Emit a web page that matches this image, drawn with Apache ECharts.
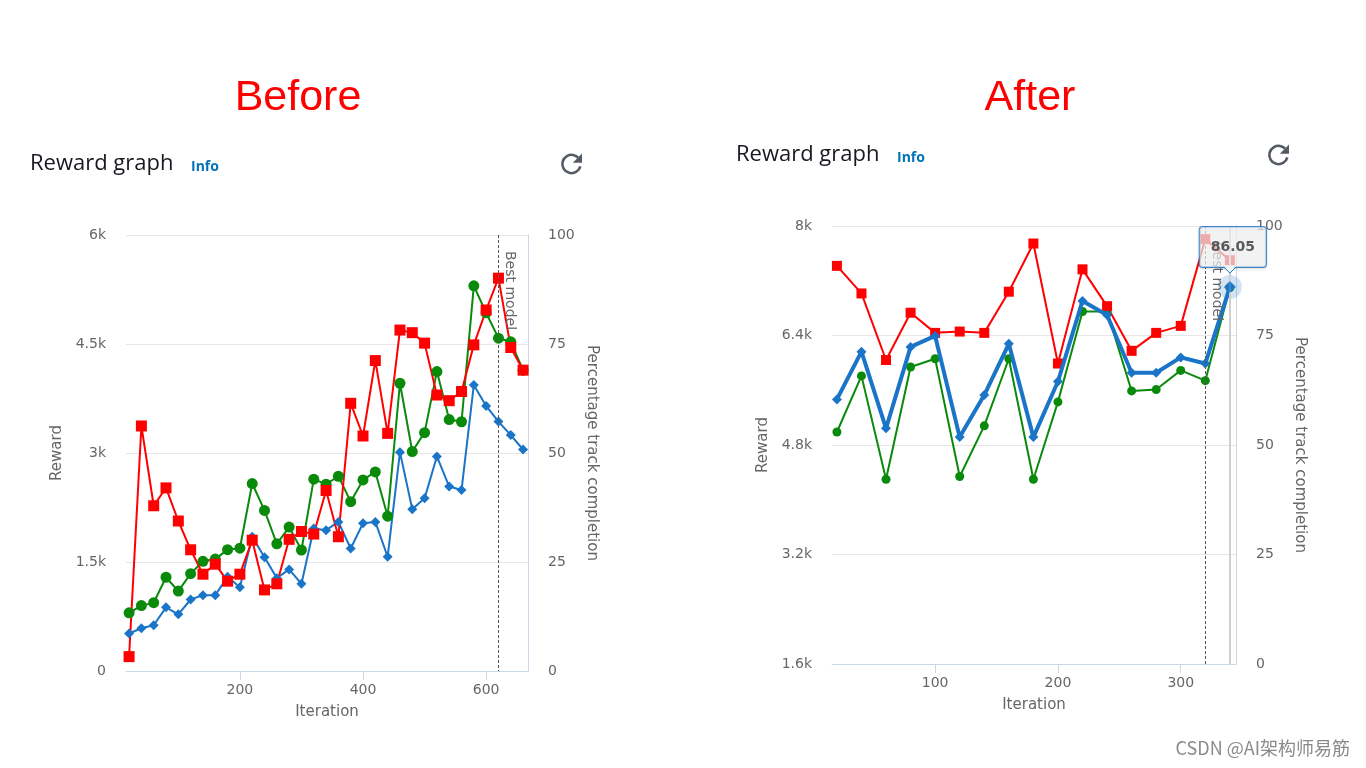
<!DOCTYPE html>
<html><head><meta charset="utf-8">
<script src="https://cdn.jsdelivr.net/npm/echarts@6/dist/echarts.min.js"></script>
<style>html,body{margin:0;padding:0;background:#fff;}#c{width:1366px;height:768px;}</style>
</head><body><div id="c"></div>
<script>
// ---------- Before ----------
const beforeIterations = [20,40,60,80,100,120,140,160,180,200,220,240,260,280,300,320,340,360,380,400,420,440,460,480,500,520,540,560,580,600,620,640,660];
const beforeRewardTraining = [800,900,940,1290,1100,1340,1510,1540,1670,1690,2580,2210,1750,1980,1665,2640,2570,2680,2330,2630,2740,2130,3960,3020,3280,4120,3460,3430,5300,4930,4580,4530,4140];
const beforeCompletionTraining = [8.6,9.8,10.5,14.6,13.0,16.4,17.4,17.4,21.6,19.2,30.8,26.1,21.3,23.3,20.0,32.7,32.3,34.2,28.1,33.9,34.2,26.2,50.2,37.1,39.6,49.2,42.3,41.5,65.6,60.8,57.2,54.1,50.8];
const beforeCompletionEval = [3.3,56.2,37.9,42.0,34.4,27.8,22.2,24.5,20.6,22.2,30.0,18.6,20.0,30.2,32.0,31.4,41.4,30.8,61.4,53.9,71.2,54.5,78.2,77.6,75.2,63.3,62.0,64.1,74.8,82.8,90.1,74.2,69.0];
const beforeBestModel = 620;
const beforeXTicks = [200,400,600];

// ---------- After ----------
const afterIterations = [20,40,60,80,100,120,140,160,180,200,220,240,260,280,300,320,340];
const afterRewardTraining = [4990,5810,4300,5940,6060,4340,5080,6060,4300,5430,6750,6750,5590,5610,5890,5740,7100];
const afterCompletionTraining = [60.4,71.3,53.8,72.4,74.9,51.8,61.4,73.1,51.8,64.5,82.9,79.7,66.5,66.5,70.0,68.6,86.05];
const afterCompletionEval = [90.9,84.6,69.4,80.2,75.6,75.9,75.6,85.0,96.0,68.6,90.1,81.7,71.5,75.6,77.2,97.0,92.2];
const afterBestModel = 320;
const afterXTicks = [100,200,300];

const GRAY = '#666666', AXIS = '#ccd6eb', SPLIT = '#e6e6e6';
const BLUE = '#1a75c8', GREEN = '#0a8a0a', RED = '#ff0000';
const FONT = 'DejaVu Sans';

function kfmt(v){ return v === 0 ? '0' : (Math.round(v/100)/10) + 'k'; }
function pairs(xs, ys){ return xs.map((x,i) => [x, ys[i]]); }

const labelStyle = {color: GRAY, fontSize: 14, fontFamily: FONT};
const nameStyle = {color: GRAY, fontSize: 15, fontFamily: FONT};

function xAx(grid, min, max, ticks){
  return {gridIndex: grid, type: 'value', min: min, max: max,
    name: 'Iteration', nameLocation: 'middle', nameGap: 34, nameTextStyle: nameStyle,
    axisLine: {show: true, lineStyle: {color: AXIS, width: 1}},
    axisTick: {show: true, inside: false, length: 9, lineStyle: {color: AXIS, width: 1}, customValues: ticks},
    axisLabel: Object.assign({margin: 12, customValues: ticks}, labelStyle),
    splitLine: {show: false}};
}
function yLeft(grid, min, max, interval){
  return {gridIndex: grid, type: 'value', position: 'left', min: min, max: max, interval: interval,
    name: 'Reward', nameLocation: 'middle', nameGap: 61, nameRotate: 90, nameTextStyle: nameStyle,
    axisLine: {show: false}, axisTick: {show: false},
    axisLabel: Object.assign({margin: 20, formatter: kfmt}, labelStyle),
    splitLine: {show: true, lineStyle: {color: SPLIT, width: 1}}};
}
function yRight(grid){
  return {gridIndex: grid, type: 'value', position: 'right', min: 0, max: 100, interval: 25,
    name: 'Percentage track completion', nameLocation: 'middle', nameGap: 56, nameRotate: -90, nameTextStyle: nameStyle,
    axisLine: {show: true, lineStyle: {color: AXIS, width: 1}}, axisTick: {show: false},
    axisLabel: Object.assign({margin: 20}, labelStyle),
    splitLine: {show: false}};
}
function bestLine(x){
  return {silent: true, symbol: ['none','none'], animation: false,
    lineStyle: {type: [3,2], color: '#555', width: 1},
    label: {show: true, formatter: 'Best model', position: 'insideStartTop', color: GRAY, fontSize: 14, fontFamily: FONT,
      distance: 4, padding: [0, 0, 0, 12]},
    data: [[{coord: [x, 100]}, {coord: [x, 0]}]]};
}
function lineSeries(name, xi, yi, xs, ys, color, symbol, size, width, z, extra){
  return Object.assign({name: name, type: 'line', xAxisIndex: xi, yAxisIndex: yi, data: pairs(xs, ys),
    symbol: symbol, symbolSize: size, showSymbol: true, animation: false, z: z,
    lineStyle: {color: color, width: width}, itemStyle: {color: color}}, extra || {});
}
function refreshIcon(cx, cy){
  const s = 1.31;
  return [
    {type: 'arc', shape: {cx: cx, cy: cy, r: 7*s, startAngle: 15*Math.PI/180, endAngle: 315*Math.PI/180, clockwise: true},
      style: {stroke: '#545b64', lineWidth: 2*s, fill: null}},
    {type: 'polygon', shape: {points: [[cx+1*s, cy-1*s], [cx+8*s, cy-1*s], [cx+8*s, cy-8*s]]}, style: {fill: '#545b64'}}
  ];
}

const lastIdx = afterIterations.length - 1;
const hoverPoint = [[afterIterations[lastIdx], afterCompletionTraining[lastIdx]]];

const baseGraphic = [
  {type: 'text', x: 298, y: 98, style: {text: 'Before', fill: '#ff0000', font: '43px "Liberation Sans"', textAlign: 'center', textVerticalAlign: 'middle', align: 'center', verticalAlign: 'middle'}},
  {type: 'text', x: 1030, y: 98, style: {text: 'After', fill: '#ff0000', font: '43px "Liberation Sans"', textAlign: 'center', textVerticalAlign: 'middle', align: 'center', verticalAlign: 'middle'}},
  {type: 'text', x: 30, y: 164, style: {text: 'Reward graph', fill: '#16191f', font: '22px "Open Sans"', textVerticalAlign: 'middle', verticalAlign: 'middle'}},
  {type: 'text', x: 191, y: 167, style: {text: 'Info', fill: '#0073bb', font: 'bold 14px "Open Sans"', textVerticalAlign: 'middle', verticalAlign: 'middle'}},
  {type: 'text', x: 736, y: 155, style: {text: 'Reward graph', fill: '#16191f', font: '22px "Open Sans"', textVerticalAlign: 'middle', verticalAlign: 'middle'}},
  {type: 'text', x: 897, y: 158, style: {text: 'Info', fill: '#0073bb', font: 'bold 14px "Open Sans"', textVerticalAlign: 'middle', verticalAlign: 'middle'}},
  {type: 'text', x: 1350, y: 748, style: {text: 'CSDN @AI架构师易筋', fill: '#8a8a8a', font: '18px "Noto Sans CJK SC"', textAlign: 'right', textVerticalAlign: 'middle', align: 'right', verticalAlign: 'middle'}}
].concat(refreshIcon(571.5, 164), refreshIcon(1278.5, 155));

const option = {
  backgroundColor: '#ffffff',
  animation: false,
  grid: [
    {left: 126, right: 838, top: 235, bottom: 97},
    {left: 832, right: 130, top: 226, bottom: 104}
  ],
  xAxis: [xAx(0, 15, 668, beforeXTicks), xAx(1, 16, 345, afterXTicks)],
  yAxis: [yLeft(0, 0, 6000, 1500), yRight(0), yLeft(1, 1600, 8000, 1600), yRight(1)],
  series: [
    lineSeries('Average percentage track completion (training)', 0, 1, beforeIterations, beforeCompletionTraining, BLUE, 'diamond', 10, 2, 2),
    lineSeries('Average reward (training)', 0, 0, beforeIterations, beforeRewardTraining, GREEN, 'circle', 11, 2, 2),
    lineSeries('Average percentage track completion (evaluation)', 0, 1, beforeIterations, beforeCompletionEval, RED, 'rect', 11, 2, 2,
      {markLine: bestLine(beforeBestModel)}),

    lineSeries('Average reward (training)', 1, 2, afterIterations, afterRewardTraining, GREEN, 'circle', 9, 2, 2),
    lineSeries('Average percentage track completion (training)', 1, 3, afterIterations, afterCompletionTraining, BLUE, 'diamond', 10, 4, 3),
    lineSeries('Average percentage track completion (evaluation)', 1, 3, afterIterations, afterCompletionEval, RED, 'rect', 10, 2, 2,
      {markLine: bestLine(afterBestModel)}),
    {type: 'scatter', xAxisIndex: 1, yAxisIndex: 3, data: hoverPoint, symbol: 'circle', symbolSize: 24, z: 1, silent: true,
      itemStyle: {color: 'rgba(26,117,200,0.25)'},
      markLine: {silent: true, symbol: ['none','none'], label: {show: false},
        lineStyle: {type: 'solid', color: '#d0d0d0', width: 2},
        data: [[{coord: [hoverPoint[0][0], 100]}, {coord: [hoverPoint[0][0], 0]}]]}},
    {type: 'scatter', xAxisIndex: 1, yAxisIndex: 3, data: hoverPoint, symbol: 'diamond', symbolSize: 12, z: 10, silent: true,
      itemStyle: {color: BLUE},
      label: {show: true, position: 'top', distance: 14, offset: [3, 0], formatter: p => p.value[1].toFixed(2),
        color: '#333', fontSize: 14, fontWeight: 'bold', fontFamily: FONT, lineHeight: 18,
        backgroundColor: 'rgba(248,248,248,0.85)', borderColor: BLUE, borderWidth: 1, borderRadius: 3,
        padding: [11, 11, 11, 11], shadowBlur: 3, shadowColor: 'rgba(0,0,0,0.15)', shadowOffsetY: 1}}
  ],
  graphic: baseGraphic
};

const chart = echarts.init(document.getElementById('c'), null, {renderer: 'canvas'});
chart.setOption(option);

// tooltip pointer under the label box
const p = chart.convertToPixel({xAxisIndex: 1, yAxisIndex: 3}, hoverPoint[0]);
const boxBottom = p[1] - 20;
chart.setOption({graphic: baseGraphic.concat([
  {type: 'polygon', z: 100, shape: {points: [[p[0]-6, boxBottom-1], [p[0]+6, boxBottom-1], [p[0], boxBottom+6]]}, style: {fill: 'rgba(248,248,248,0.95)'}},
  {type: 'polyline', z: 100, shape: {points: [[p[0]-6, boxBottom], [p[0], boxBottom+6], [p[0]+6, boxBottom]]}, style: {stroke: BLUE, lineWidth: 1, fill: null}}
])});
</script>
</body></html>
